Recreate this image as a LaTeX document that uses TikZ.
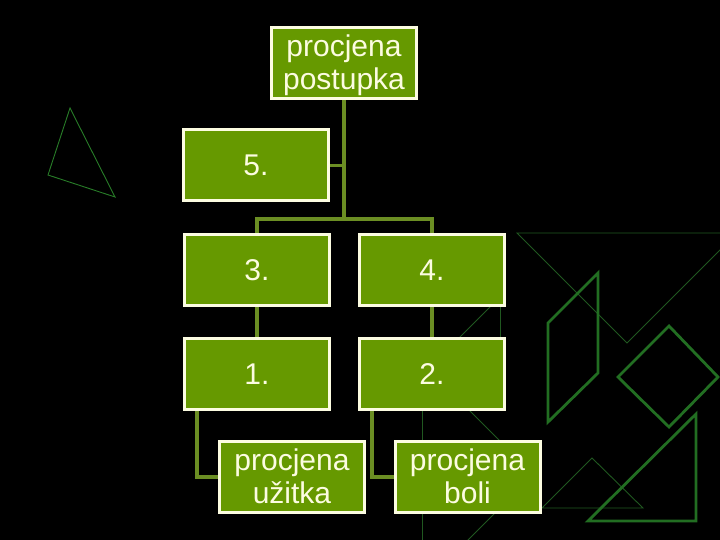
\documentclass[tikz,border=0pt]{standalone}
\usepackage{fontspec}
\setmainfont{Liberation Sans}
\usetikzlibrary{backgrounds}
\definecolor{boxgreen}{RGB}{102,153,0}
\definecolor{linkolive}{RGB}{107,142,35}
\definecolor{cream}{RGB}{252,252,225}
\definecolor{shapegreen}{RGB}{34,110,34}
\definecolor{faintgreen}{RGB}{32,88,32}
\definecolor{lefttri}{RGB}{40,125,40}
\newcommand{\twotext}[2]{\raisebox{-3.5pt}[\height][\depth]{\begin{tabular}{@{}c@{}}#1\\#2\end{tabular}}}
\begin{document}
\begin{tikzpicture}[x=1pt,y=-1pt,
  orgbox/.style={draw=cream, line width=3pt, fill=boxgreen, text=cream,
    minimum width=145pt, minimum height=71pt, inner sep=0pt,
    font=\fontsize{30}{33}\selectfont},
  link/.style={draw=linkolive, line width=3.2pt},
  thickshape/.style={draw=shapegreen, line width=2.8pt, line join=miter},
  thinshape/.style={draw=faintgreen, line width=0.9pt}]
\useasboundingbox (0,0) rectangle (720,540);

% boxes
\node[orgbox] (top) at (344,63) {\twotext{procjena}{postupka}};
\node[orgbox] (b5) at (256,165.5) {5.};
\node[orgbox] (b3) at (257,270) {3.};
\node[orgbox] (b4) at (432,270) {4.};
\node[orgbox] (b1) at (257,374) {1.};
\node[orgbox] (b2) at (432,374) {2.};
\node[orgbox] (bu) at (292,477) {\twotext{procjena}{užitka}};
\node[orgbox] (bb) at (467.5,477) {\twotext{procjena}{boli}};
\coordinate (bus) at (344,219);

\begin{scope}[on background layer]
  \fill[black] (0,0) rectangle (720,540);
  \begin{scope}
    \clip (0,0) rectangle (720,540);
    % thin decorative shapes
    \draw[thinshape, draw=lefttri] (70,108) -- (48,175) -- (115,197) -- cycle;
    \draw[thinshape] (517,233) -- (737,233) -- (627,343) -- cycle;
    \draw[thinshape] (542,508) -- (592,458) -- (643,508) -- cycle;
    \draw[thinshape] (500,297) -- (428,369) -- (534,475);
    \draw[thinshape] (500,297) -- (500,380);
    \draw[thinshape] (422,375) -- (422,545);
    \draw[thinshape] (510,498) -- (466,542);
    % thick decorative shapes
    \draw[thickshape] (548,323) -- (598,273) -- (598,373) -- (548,422) -- cycle;
    \draw[thickshape] (669,326) -- (718,377) -- (669,427) -- (618,377) -- cycle;
    \draw[thickshape] (696,414) -- (696,521) -- (588,521) -- cycle;
  \end{scope}
  % connectors
  \draw[link] (top.south) -- (bus);
  \draw[link] (top.south |- b5.east) -- (b5.east);
  \draw[link] (b3.north) |- (bus) -| (b4.north);
  \draw[link] (b3.south) -- (b1.north);
  \draw[link] (b4.south) -- (b2.north);
  \draw[link] ([xshift=14pt]b1.south west) |- (bu.west);
  \draw[link] ([xshift=14pt]b2.south west) |- (bb.west);
\end{scope}
\end{tikzpicture}
\end{document}
